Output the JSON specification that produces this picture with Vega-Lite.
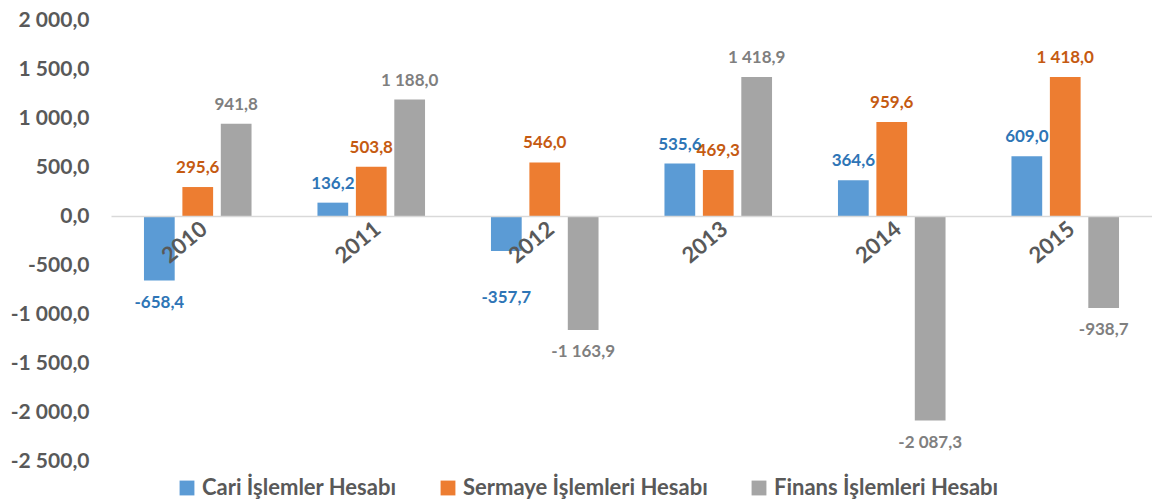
{
  "$schema": "https://vega.github.io/schema/vega-lite/v6.json",
  "width": 1041,
  "height": 441,
  "padding": {"left": 10, "top": 9, "right": 0, "bottom": 0},
  "background": "white",
  "config": {
    "locale": {"number": {"decimal": ",", "thousands": " ", "grouping": [3], "currency": ["", ""], "minus": "-"}},
    "view": {"stroke": null},
    "font": "Lato"
  },
  "data": {
    "values": [
      {"year": "2010", "series": "Cari İşlemler Hesabı", "v": -658.4},
      {"year": "2010", "series": "Sermaye İşlemleri Hesabı", "v": 295.6},
      {"year": "2010", "series": "Finans İşlemleri Hesabı", "v": 941.8},
      {"year": "2011", "series": "Cari İşlemler Hesabı", "v": 136.2},
      {"year": "2011", "series": "Sermaye İşlemleri Hesabı", "v": 503.8},
      {"year": "2011", "series": "Finans İşlemleri Hesabı", "v": 1188.0},
      {"year": "2012", "series": "Cari İşlemler Hesabı", "v": -357.7},
      {"year": "2012", "series": "Sermaye İşlemleri Hesabı", "v": 546.0},
      {"year": "2012", "series": "Finans İşlemleri Hesabı", "v": -1163.9},
      {"year": "2013", "series": "Cari İşlemler Hesabı", "v": 535.6},
      {"year": "2013", "series": "Sermaye İşlemleri Hesabı", "v": 469.3},
      {"year": "2013", "series": "Finans İşlemleri Hesabı", "v": 1418.9},
      {"year": "2014", "series": "Cari İşlemler Hesabı", "v": 364.6},
      {"year": "2014", "series": "Sermaye İşlemleri Hesabı", "v": 959.6},
      {"year": "2014", "series": "Finans İşlemleri Hesabı", "v": -2087.3},
      {"year": "2015", "series": "Cari İşlemler Hesabı", "v": 609.0},
      {"year": "2015", "series": "Sermaye İşlemleri Hesabı", "v": 1418.0},
      {"year": "2015", "series": "Finans İşlemleri Hesabı", "v": -938.7}
    ]
  },
  "encoding": {
    "x": {
      "field": "year", "type": "nominal",
      "scale": {"paddingInner": 0.38, "paddingOuter": 0.19},
      "axis": {
        "title": null, "orient": "bottom", "offset": -245,
        "domainColor": "#D9D9D9", "domainWidth": 1.3, "ticks": false,
        "labelAngle": -40, "labelFontSize": 22, "labelFontWeight": "bold",
        "labelColor": "#595959", "labelPadding": 2, "zindex": 1
      }
    },
    "xOffset": {
      "field": "series", "type": "nominal",
      "scale": {"domain": ["Cari İşlemler Hesabı", "Sermaye İşlemleri Hesabı", "Finans İşlemleri Hesabı"], "paddingInner": 0.2}
    },
    "y": {
      "field": "v", "type": "quantitative",
      "scale": {"domain": [-2500, 2000], "nice": false},
      "axis": {
        "title": null, "values": [-2500, -2000, -1500, -1000, -500, 0, 500, 1000, 1500, 2000],
        "format": ",.1f", "grid": false, "domain": false, "ticks": false,
        "labelFontSize": 21, "labelFontWeight": "bold", "labelColor": "#595959", "labelPadding": 22
      }
    }
  },
  "resolve": {"scale": {"color": "independent"}},
  "layer": [
    {
      "mark": {"type": "bar"},
      "encoding": {
        "color": {
          "field": "series", "type": "nominal",
          "scale": {
            "domain": ["Cari İşlemler Hesabı", "Sermaye İşlemleri Hesabı", "Finans İşlemleri Hesabı"],
            "range": ["#5B9BD5", "#ED7D31", "#A5A5A5"]
          },
          "legend": {
            "title": null, "orient": "none", "legendX": 65, "legendY": 457, "direction": "horizontal",
            "symbolType": "square", "symbolSize": 220, "symbolStrokeWidth": 0,
            "labelFontSize": 22, "labelFontWeight": "bold", "labelColor": "#595959",
            "columnPadding": 40, "labelLimit": 400, "labelOffset": 4
          }
        }
      }
    },
    {
      "transform": [{"filter": "datum.v >= 0"}],
      "mark": {"type": "text", "baseline": "bottom", "dy": -10, "fontSize": 17, "fontWeight": "bold"},
      "encoding": {
        "text": {"field": "v", "type": "quantitative", "format": ",.1f"},
        "color": {
          "field": "series", "type": "nominal",
          "scale": {
            "domain": ["Cari İşlemler Hesabı", "Sermaye İşlemleri Hesabı", "Finans İşlemleri Hesabı"],
            "range": ["#2E75B6", "#C55A11", "#7F7F7F"]
          },
          "legend": null
        }
      }
    },
    {
      "transform": [{"filter": "datum.v <= -500"}],
      "mark": {"type": "text", "baseline": "top", "dy": 14, "fontSize": 17, "fontWeight": "bold"},
      "encoding": {
        "text": {"field": "v", "type": "quantitative", "format": ",.1f"},
        "color": {
          "field": "series", "type": "nominal",
          "scale": {
            "domain": ["Cari İşlemler Hesabı", "Sermaye İşlemleri Hesabı", "Finans İşlemleri Hesabı"],
            "range": ["#2E75B6", "#C55A11", "#7F7F7F"]
          },
          "legend": null
        }
      }
    },
    {
      "transform": [{"filter": "datum.v < 0 && datum.v > -500"}],
      "mark": {"type": "text", "baseline": "top", "dy": 39, "fontSize": 17, "fontWeight": "bold"},
      "encoding": {
        "text": {"field": "v", "type": "quantitative", "format": ",.1f"},
        "color": {
          "field": "series", "type": "nominal",
          "scale": {
            "domain": ["Cari İşlemler Hesabı", "Sermaye İşlemleri Hesabı", "Finans İşlemleri Hesabı"],
            "range": ["#2E75B6", "#C55A11", "#7F7F7F"]
          },
          "legend": null
        }
      }
    }
  ]
}
